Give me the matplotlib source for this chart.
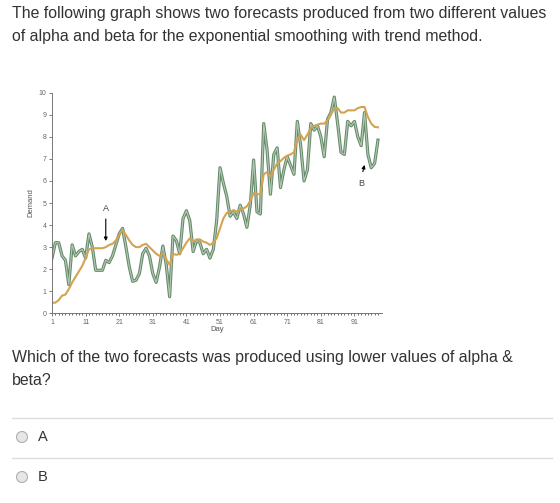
import numpy as np
import matplotlib.pyplot as plt
from matplotlib.patches import Circle

plt.rcParams['font.family'] = ['Liberation Sans', 'DejaVu Sans']

# dados
days = np.arange(1, 99)
demand = [2.5, 3.2, 3.2, 2.6, 2.4, 1.3, 3.1, 2.6, 2.8, 2.9,
          2.5, 3.6, 3.0, 1.95, 1.95, 1.95, 2.4, 2.3, 2.6, 3.1,
          3.6, 3.85, 3.0, 2.1, 1.45, 1.5, 1.8, 2.7, 2.95, 2.6,
          1.8, 1.4, 2.1, 3.05, 2.2, 0.75, 3.5, 3.3, 2.7, 4.3,
          4.65, 4.2, 2.8, 3.3, 3.2, 2.7, 2.9, 2.5, 2.9, 4.2,
          6.6, 5.9, 5.3, 4.4, 4.6, 4.3, 4.9, 4.5, 3.9, 4.9,
          6.95, 4.6, 4.5, 8.6, 7.4, 5.4, 7.2, 7.5, 5.7, 6.5,
          7.1, 6.7, 6.3, 8.7, 7.6, 6.0, 6.5, 8.6, 8.3, 8.5,
          8.0, 7.1, 8.8, 9.1, 9.8, 8.6, 7.3, 7.2, 8.7, 8.5,
          8.7, 8.0, 7.6, 9.1, 7.2, 6.6, 6.8, 7.85]
forecast = [0.48, 0.48, 0.6, 0.8, 0.85, 1.1, 1.4, 1.65, 1.9, 2.15,
            2.5, 2.9, 2.95, 2.95, 2.95, 2.95, 3.0, 3.1, 3.15, 3.3,
            3.55, 3.78, 3.55, 3.3, 3.1, 3.0, 3.0, 3.1, 3.15, 3.0,
            2.85, 2.7, 2.6, 2.7, 2.45, 2.2, 2.7, 2.65, 2.7, 2.95,
            3.2, 3.4, 3.25, 3.35, 3.35, 3.25, 3.2, 3.1, 3.2, 3.4,
            3.85, 4.3, 4.55, 4.6, 4.68, 4.6, 4.7, 4.75, 4.85, 5.1,
            5.45, 5.4, 5.4, 6.3, 6.4, 6.2, 6.5, 6.8, 6.9, 7.05,
            7.15, 7.2, 7.3, 7.9, 8.1, 7.85, 8.1, 8.4, 8.5, 8.55,
            8.6, 8.6, 8.75, 9.0, 9.3, 9.3, 9.1, 9.1, 9.2, 9.2,
            9.2, 9.3, 9.35, 9.35, 8.9, 8.6, 8.45, 8.43]
xticks = [1, 11, 21, 31, 41, 51, 61, 71, 81, 91]
yticks = list(range(0, 11))

question_top = ("The following graph shows two forecasts produced from two different values\n"
                "of alpha and beta for the exponential smoothing with trend method.")
question = "Which of the two forecasts was produced using lower values of alpha &\nbeta?"
options = ['A', 'B']

fig = plt.figure(figsize=(5.6, 5.03), dpi=100)

# camada de fundo em pixels
bg = fig.add_axes([0, 0, 1, 1])
bg.set_xlim(0, 560)
bg.set_ylim(503, 0)
bg.axis('off')

txt = '#333333'
bg.text(12, 25, question_top, fontsize=11.4, color=txt, va='center', linespacing=1.62)
bg.text(12, 369, question, fontsize=11.4, color=txt, va='center', linespacing=1.68)
for yl in [418, 458]:
    bg.plot([12, 552], [yl, yl], color='#dddddd', lw=1)
for i, op in enumerate(options):
    yc = 437 + i * 40
    bg.add_patch(Circle((22, yc), 5.5, facecolor='#e6e6e6', edgecolor='#b0b0b0', lw=0.8))
    bg.text(38, yc, op, fontsize=10.5, color=txt, va='center')

# grafico
ax = fig.add_axes([52 / 560, 1 - 313.3 / 503, 330 / 560, 220.6 / 503])
ax.plot(days, demand, color='#66896a', lw=2.3, solid_joinstyle='round')
ax.plot(days, demand, color='#b2cab2', lw=0.8, solid_joinstyle='round')
ax.plot(days, forecast, color='#d4a352', lw=1.5)
ax.set_xlim(1, 99.2)
ax.set_ylim(0, 10)
ax.set_xticks(xticks)
ax.set_xticks(days, minor=True)
ax.set_yticks(yticks)
ax.tick_params(labelsize=5, colors='#666666', length=2, width=0.6, pad=2)
ax.tick_params(which='minor', length=1.5, width=0.6, color='#555555')
for s in ['top', 'right']:
    ax.spines[s].set_visible(False)
for s in ['left', 'bottom']:
    ax.spines[s].set_color('#777777')
    ax.spines[s].set_linewidth(0.7)
ax.set_xlabel('Day', fontsize=5.5, color='#555555', labelpad=0)
ax.set_ylabel('Demand', fontsize=5.5, color='#555555', labelpad=3)

ax.annotate('', xy=(17, 3.15), xytext=(17, 4.4),
            arrowprops=dict(arrowstyle='-|>', color='black', lw=0.8, mutation_scale=5))
ax.text(17, 4.55, 'A', fontsize=6.5, color='#444444', ha='center', va='bottom')
ax.annotate('', xy=(94.2, 6.85), xytext=(93.3, 6.3),
            arrowprops=dict(arrowstyle='-|>', color='black', lw=0.8, mutation_scale=5))
ax.text(93, 6.1, 'B', fontsize=6.5, color='#444444', ha='center', va='top')

fig.savefig('out.png', dpi=100)
